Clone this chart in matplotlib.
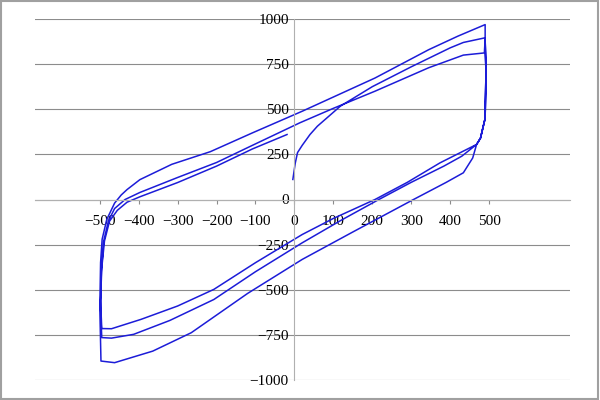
import matplotlib
matplotlib.use("Agg")
import matplotlib.pyplot as plt
from matplotlib.patches import Rectangle

# hysteresis path (x, y)
initial = [(-4, 111), (2, 200), (8, 260), (20, 300), (40, 360), (59, 406), (118, 517),
           (200, 625), (300, 735), (400, 840), (434, 870), (488, 895)]
drop_right = [(490, 890), (492, 700), (490, 450), (478, 340), (468, 305)]
lower_mid = [(430, 240), (384, 185), (300, 95), (217, 0), (120, -115), (20, -240),
             (-100, -400), (-207, -554), (-320, -670), (-413, -747), (-470, -768), (-495, -765)]
rise_mid = [(-498, -600), (-496, -400), (-490, -230), (-478, -120), (-462, -50),
            (-435, 0), (-397, 39)]
upper_810 = [(-300, 122), (-200, 205), (-108, 300), (14, 425), (100, 505), (207, 600),
             (345, 730), (434, 800), (488, 812)]
lower_out = [(458, 230), (434, 148), (390, 95), (306, 0), (150, -180), (20, -332),
             (-120, -520), (-265, -738), (-364, -840), (-462, -904), (-497, -895)]
rise_out = [(-500, -600), (-498, -350), (-494, -220), (-482, -110), (-462, -20),
            (-445, 25), (-430, 55), (-397, 110)]
upper_969 = [(-315, 195), (-216, 265), (-108, 369), (20, 489), (207, 673), (345, 830),
             (420, 905), (490, 969)]
lower_in = [(374, 203), (290, 95), (207, 0), (100, -105), (20, -194), (-100, -350),
            (-207, -498), (-300, -590), (-394, -664), (-470, -716), (-495, -715)]
rise_in = [(-498, -560), (-495, -380), (-488, -230), (-475, -120), (-455, -60),
           (-430, -15), (-397, 15)]
upper_end = [(-300, 94), (-200, 185), (-108, 280), (-19, 360)]

path = (initial + drop_right + lower_mid + rise_mid + upper_810 + drop_right + lower_out
        + rise_out + upper_969 + drop_right + lower_in + rise_in + upper_end)
xs = [p[0] for p in path]
ys = [p[1] for p in path]

yticks = [-1000, -750, -500, -250, 0, 250, 500, 750, 1000]
xticks = [-500, -400, -300, -200, -100, 0, 100, 200, 300, 400, 500]

plt.rcParams['font.family'] = ['Liberation Serif', 'DejaVu Serif']
fig = plt.figure(figsize=(6, 4), dpi=100)
ax = fig.add_axes([0.058, 0.05, 0.892, 0.9025])
ax.plot(xs, ys, color='#1c1cd8', lw=1.1)

ax.set_xlim(-667, 708)
ax.set_ylim(-1000, 1000)
for yt in yticks:
    ax.axhline(yt, color='#8c8c8c', lw=0.8, zorder=0)
ax.spines['left'].set_position(('data', 0))
ax.spines['bottom'].set_position(('data', 0))
for s in ['top', 'right']:
    ax.spines[s].set_visible(False)
for s in ['left', 'bottom']:
    ax.spines[s].set_color('#b0b0b0')
ax.set_yticks(yticks)
ax.set_xticks(xticks)
ax.tick_params(axis='y', length=0, labelsize=11, pad=4)
ax.tick_params(axis='x', length=3, color='#8c8c8c', labelsize=11, pad=8)
fig.patches.append(Rectangle((0.002, 0.003), 0.995, 0.994, transform=fig.transFigure,
                             fill=False, edgecolor='#a0a0a0', lw=1.5))
fig.savefig('out.png', dpi=100)
